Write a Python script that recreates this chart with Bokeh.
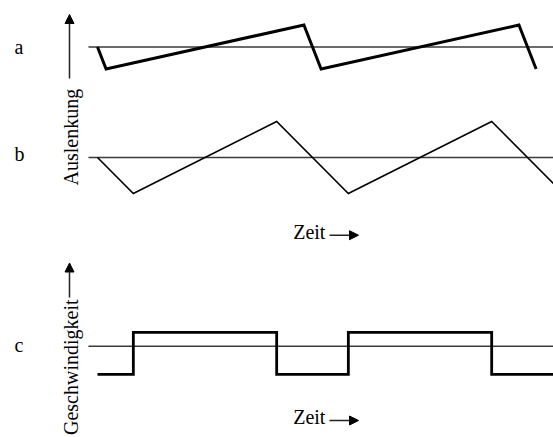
import math
from bokeh.plotting import figure
from bokeh.models import Range1d, Label, Arrow, NormalHead
from bokeh.embed import file_html
from bokeh.resources import INLINE

# ---- data (time in units of 1/3 period, values in relative amplitude) ----
a_t = [0, 0.12, 2.88, 3.12, 5.88, 6.12]
a_v = [0, -1, 1, -1, 1, -1]

b_t = [0, 0.5, 2.5, 3.5, 5.5, 6.5]
b_v = [0, -1, 1, -1, 1, -1]

c_t = [0, 0.5, 2.5, 3.5, 5.5, 6.5]
c_v = [-2, 1, -2, 1, -2, -2]

row_labels = ["a", "b", "c"]
y_titles = ["Auslenkung", "Geschwindigkeit"]
x_title = "Zeit"

# ---- layout ----
W, H = 553, 437
X0 = 97.0          # pixel of t = 0
PX_PER_T = 71.67
FONT = "Liberation Serif"
FS = "20px"
DY = 7.5           # text baseline correction

x_lo = -X0 / PX_PER_T
x_hi = (W - X0) / PX_PER_T

def yr(base_px, px_per_unit):
    return Range1d(start=(base_px - H) / px_per_unit, end=base_px / px_per_unit)

p = figure(width=W, height=H, output_backend="svg", toolbar_location=None,
           x_range=Range1d(x_lo, x_hi), y_range=Range1d(H, 0),
           x_axis_type=None, y_axis_type=None, min_border=0)
p.outline_line_color = None
p.grid.visible = False
p.background_fill_color = "white"
p.border_fill_color = "white"

p.extra_x_ranges = {"px": Range1d(0, W)}
p.extra_y_ranges = {"a": yr(46.5, 22.0), "b": yr(157.0, 36.0), "c": yr(345.8, 14.0)}

base_t = [-0.126, 6.5]
for name in ["a", "b", "c"]:
    p.line(base_t, [0, 0], y_range_name=name, line_color="#3a3a3a", line_width=1.6)

p.line(a_t, a_v, y_range_name="a", line_color="black", line_width=3, line_join="miter")
p.line(b_t, b_v, y_range_name="b", line_color="black", line_width=1.6, line_join="miter")
p.step(c_t, c_v, mode="after", y_range_name="c", line_color="black", line_width=2.8, line_join="miter")

# row labels
for lab, ypx in zip(row_labels, [54, 161, 351.5]):
    p.add_layout(Label(x=14, y=ypx - DY, x_range_name="px", text=lab, text_font=FONT,
                       text_font_size=FS, text_baseline="alphabetic", text_color="black"))

# vertical titles
p.add_layout(Label(x=78 - DY, y=185, x_range_name="px", text=y_titles[0], angle=math.pi / 2,
                   text_font=FONT, text_font_size=FS, text_align="left",
                   text_baseline="alphabetic", text_color="black"))
p.add_layout(Label(x=78 - DY, y=299, x_range_name="px", text=y_titles[1], angle=math.pi / 2,
                   text_font=FONT, text_font_size=FS, text_align="right",
                   text_baseline="alphabetic", text_color="black"))

# vertical arrows
for y0, y1 in [(78, 14), (297, 262.5)]:
    p.add_layout(Arrow(end=NormalHead(size=9, fill_color="black", line_color="black", line_width=1),
                       x_start=69, y_start=y0, x_end=69, y_end=y1, x_range_name="px",
                       line_color="#222222", line_width=1.5))

# time labels with arrows
for ybase, yarr in [(239, 234.7), (424.3, 420)]:
    p.add_layout(Label(x=292.7, y=ybase - DY, x_range_name="px", text=x_title, text_font=FONT,
                       text_font_size=FS, text_baseline="alphabetic", text_color="black"))
    p.add_layout(Arrow(end=NormalHead(size=9, fill_color="black", line_color="black", line_width=1),
                       x_start=329, y_start=yarr, x_end=358, y_end=yarr, x_range_name="px",
                       line_color="#222222", line_width=1.5))

open("out.html", "w").write(file_html(p, INLINE))
